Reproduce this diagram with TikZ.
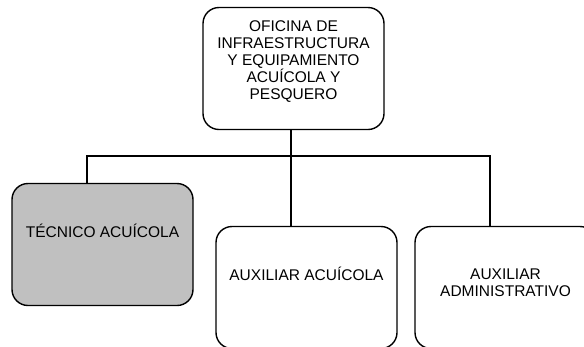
\documentclass[tikz,border=0pt]{standalone}
\usepackage{fontspec}
\setmainfont{Liberation Sans}
\usepackage{tikz}
\tikzset{
  caja/.style={draw, thick, line width=1.4pt, rounded corners=16pt,
    minimum width=181pt, minimum height=122pt, inner sep=0pt},
  rotulo/.style={align=center, inner sep=0pt,
    font=\fontsize{15.5}{17}\selectfont},
}

\begin{document}
\begin{tikzpicture}[x=1pt, y=-1pt, line width=1.4pt]
    \useasboundingbox (0, 0) rectangle (584, 346);
    \clip (0, 0) rectangle (584, 346);
    % cajas
    \node[caja](ofi) at (293.5, 68.5){};
    \node[caja, fill={rgb,255:red,192;green,192;blue,192}](tec) at (102.5, 244.5){};
    \node[caja](aux) at (306.5, 287.5){};
    \node[caja](adm) at (505.5, 287.5){};
    % textos
    \node[rotulo](ofi-t) at ([yshift=7]ofi.center){OFICINA DE\\INFRAESTRUCTURA\\Y EQUIPAMIENTO\\ACUÍCOLA Y\\PESQUERO};
    \node[rotulo, anchor=base](tec-t) at ([yshift=7]tec.center){TÉCNICO ACUÍCOLA};
    \node[rotulo, anchor=base](aux-t) at ([yshift=7]aux.center){AUXILIAR ACUÍCOLA};
    \node[rotulo](adm-t) at ([yshift=5]adm.center){AUXILIAR\\ADMINISTRATIVO};
    % lineas
    \coordinate (bus) at (0, 156);
    \draw([xshift=-15.5]tec.north)|-([xshift=-15.5]adm.north |- bus)--([xshift=-15.5]adm.north);
    \draw([xshift=-15.5]aux.north |- ofi.south)--([xshift=-15.5]aux.north);
\end{tikzpicture}
\end{document}
